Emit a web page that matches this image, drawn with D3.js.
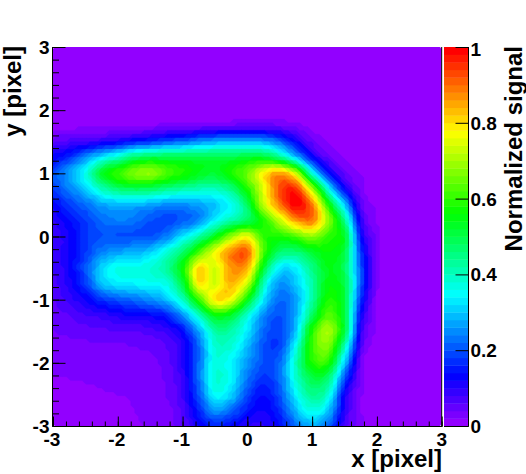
<!DOCTYPE html>
<html><head><meta charset="utf-8">
<script src="https://cdn.jsdelivr.net/npm/d3@7"></script>
<style>
html,body{margin:0;padding:0;background:#fff}
svg{display:block}
text{font-family:"Liberation Sans",Arial,sans-serif;font-weight:700;fill:#000}
</style></head><body><svg id="c" width="526" height="474"></svg>
<script>
const xGrid=[-3,-2.75,-2.5,-2.25,-2,-1.75,-1.5,-1.25,-1,-.75,-.5,-.25,0,.25,.5,.75,1,1.25,1.5,1.75,2,2.25,2.5,2.75,3];
const yGrid=[3,2.75,2.5,2.25,2,1.75,1.5,1.25,1,.75,.5,.25,0,-.25,-.5,-.75,-1,-1.25,-1.5,-1.75,-2,-2.25,-2.5,-2.75,-3];
const signal=[
[.003,.003,.003,.003,.003,.003,.003,.003,.003,.003,.003,.003,.003,.003,.003,.003,.003,.003,.003,.003,.003,.003,.003,.003,.003],
[.003,.003,.003,.003,.003,.003,.003,.003,.003,.003,.003,.003,.003,.003,.003,.003,.003,.003,.003,.003,.003,.003,.003,.003,.003],
[.003,.003,.003,.003,.003,.003,.003,.003,.003,.003,.003,.003,.003,.003,.003,.003,.003,.003,.003,.003,.003,.003,.003,.003,.003],
[.003,.003,.003,.003,.003,.003,.003,.003,.003,.003,.003,.003,.003,.003,.003,.003,.003,.003,.003,.003,.003,.003,.003,.003,.003],
[.005,.005,.005,.005,.005,.005,.005,.005,.006,.007,.008,.009,.01,.01,.009,.006,.004,.003,.003,.003,.003,.003,.003,.003,.003],
[.012,.013,.015,.017,.02,.022,.025,.028,.03,.036,.042,.048,.052,.052,.046,.03,.012,.006,.003,.003,.003,.003,.003,.003,.003],
[.06,.07,.08,.1,.12,.15,.17,.2,.22,.25,.27,.28,.28,.27,.22,.13,.05,.02,.01,.004,.003,.003,.003,.003,.003],
[.13,.17,.25,.33,.4,.47,.5,.5,.5,.5,.5,.5,.52,.52,.45,.3,.14,.05,.02,.005,.003,.003,.003,.003,.003],
[.2,.27,.36,.52,.6,.66,.68,.62,.58,.54,.52,.58,.65,.78,.85,.72,.37,.15,.05,.02,.005,.003,.003,.003,.003],
[.18,.24,.3,.4,.46,.48,.47,.44,.42,.4,.4,.45,.58,.75,.92,.95,.7,.36,.13,.03,.01,.003,.003,.003,.003],
[.13,.18,.22,.27,.28,.28,.27,.25,.25,.27,.3,.36,.48,.72,.88,.99,.88,.58,.3,.06,.015,.004,.003,.003,.003],
[.1,.14,.18,.22,.24,.23,.2,.19,.21,.25,.35,.42,.48,.58,.72,.85,.88,.68,.44,.1,.02,.005,.003,.003,.003],
[.08,.12,.17,.2,.2,.2,.2,.24,.33,.42,.54,.68,.76,.6,.58,.62,.68,.6,.52,.14,.03,.01,.003,.003,.003],
[.08,.12,.18,.24,.27,.28,.31,.38,.47,.62,.76,.88,.9,.62,.47,.46,.52,.56,.5,.18,.03,.01,.003,.003,.003],
[.08,.12,.2,.31,.36,.36,.38,.43,.56,.8,.74,.86,.84,.52,.33,.34,.45,.54,.48,.2,.03,.008,.003,.003,.003],
[.07,.11,.18,.29,.33,.34,.35,.37,.5,.78,.74,.84,.72,.4,.26,.3,.42,.55,.5,.2,.025,.008,.003,.003,.003],
[.06,.09,.12,.17,.2,.22,.25,.29,.4,.6,.79,.76,.55,.33,.22,.27,.42,.58,.5,.17,.02,.006,.003,.003,.003],
[.05,.06,.08,.09,.11,.12,.13,.16,.25,.4,.55,.52,.38,.25,.2,.28,.48,.63,.5,.13,.02,.005,.003,.003,.003],
[.04,.045,.05,.055,.06,.06,.07,.09,.14,.27,.42,.42,.33,.22,.19,.3,.58,.7,.5,.1,.015,.004,.003,.003,.003],
[.03,.032,.035,.035,.035,.04,.045,.06,.1,.22,.38,.38,.29,.2,.19,.36,.6,.66,.4,.07,.012,.004,.003,.003,.003],
[.025,.026,.027,.028,.03,.03,.035,.05,.1,.22,.37,.34,.26,.2,.22,.4,.58,.58,.3,.04,.01,.004,.003,.003,.003],
[.019,.02,.021,.022,.025,.027,.03,.045,.09,.22,.38,.34,.23,.17,.22,.38,.5,.46,.2,.03,.008,.003,.003,.003,.003],
[.018,.018,.018,.019,.02,.022,.03,.04,.08,.2,.35,.31,.19,.14,.2,.34,.44,.38,.12,.025,.007,.003,.003,.003,.003],
[.015,.015,.015,.016,.017,.02,.025,.03,.07,.16,.26,.22,.15,.12,.17,.29,.37,.3,.1,.02,.006,.003,.003,.003,.003],
[.013,.013,.014,.014,.015,.018,.022,.03,.06,.12,.16,.14,.1,.1,.14,.22,.28,.22,.08,.03,.005,.003,.003,.003,.003]
];
const xTicks=[-3,-2,-1,0,1,2,3], yTicks=[-3,-2,-1,0,1,2,3], zTicks=[0,.2,.4,.6,.8,1];
const xTitle="x [pixel]", yTitle="y [pixel]", zTitle="Normalized signal";
const nColors=50, nBins=100;

const svg=d3.select("#c");
const L=53,R=441.7,T=47,B=426,BL=444,BR=468.5;
const x=d3.scaleLinear().domain([-3,3]).range([L,R]);
const y=d3.scaleLinear().domain([-3,3]).range([B,T]);
const z=d3.scaleLinear().domain([0,1]).range([B,T]);
const palette=d3.range(nColors).map(i=>d3.hsl(280-(i+1)*280/nColors,1,.5).formatHex());

svg.append("clipPath").attr("id","fr").append("rect").attr("x",L).attr("y",T).attr("width",R-L).attr("height",B-T);

// display resampling of the read grid into the histogram's bins (as the original's smoothed draw)
function cr(p0,p1,p2,p3,t){return .5*(2*p1+(p2-p0)*t+(2*p0-5*p1+4*p2-p3)*t*t+(3*p1-p0-3*p2+p3)*t*t*t);}
const nx=xGrid.length, ny=yGrid.length;
function at(j,i){return signal[Math.max(0,Math.min(ny-1,j))][Math.max(0,Math.min(nx-1,i))];}
function sample(fi,fj){
  const i=Math.floor(fi), j=Math.floor(fj), u=fi-i, v=fj-j;
  const r=[-1,0,1,2].map(dj=>cr(at(j+dj,i-1),at(j+dj,i),at(j+dj,i+1),at(j+dj,i+2),u));
  return Math.max(0,Math.min(.999,cr(r[0],r[1],r[2],r[3],v)));
}
const bins=new Array(nBins*nBins);
for(let b=0;b<nBins;b++)for(let a=0;a<nBins;a++){
  bins[b*nBins+a]=sample((a+.5)/nBins*(nx-1),(b+.5)/nBins*(ny-1));
}
const binX=d3.scaleLinear().domain([0,nBins]).range([L,R]);
const binY=d3.scaleLinear().domain([0,nBins]).range([T,B]);
const proj=d3.geoTransform({point(a,b){this.stream.point(binX(a),binY(b));}});
const path=d3.geoPath(proj);
const thresholds=d3.range(0,nColors).map(i=>i/nColors);
const contours=d3.contours().size([nBins,nBins]).smooth(false).thresholds(thresholds)(bins);
svg.append("g").attr("clip-path","url(#fr)").selectAll("path").data(contours).join("path")
  .attr("d",path).attr("fill",(d,i)=>palette[i]).attr("stroke",(d,i)=>palette[i]).attr("stroke-width",.3);

svg.append("g").selectAll("rect").data(palette).join("rect")
  .attr("x",BL).attr("width",BR-BL)
  .attr("y",(d,i)=>z((i+1)/nColors)).attr("height",(B-T)/nColors+.4).attr("fill",d=>d);

function line(x1,y1,x2,y2){svg.append("line").attr("x1",x1).attr("y1",y1).attr("x2",x2).attr("y2",y2).attr("stroke","#000").attr("stroke-width",1);}

line(L-.5,T,L-.5,B+.5); line(L-.5,B+.5,R+.5,B+.5); line(R,T,R,B+.5); line(BR,T,BR,B+.5);line(BL,B+.5,BR,B+.5);

const minor=d3.range(-3,3.001,.2).map(v=>+v.toFixed(1));
svg.append("g").attr("transform",`translate(0,${B+.5})`).call(d3.axisTop(x).tickValues(minor).tickSize(5).tickFormat("")).call(g=>g.select(".domain").remove());
svg.append("g").attr("transform",`translate(0,${B+.5})`).call(d3.axisTop(x).tickValues(xTicks).tickSize(10).tickFormat("")).call(g=>g.select(".domain").remove());
svg.append("g").attr("transform",`translate(${L-.5},0)`).call(d3.axisRight(y).tickValues(minor).tickSize(6.5).tickFormat("")).call(g=>g.select(".domain").remove());
svg.append("g").attr("transform",`translate(${L-.5},0)`).call(d3.axisRight(y).tickValues(yTicks).tickSize(13).tickFormat("")).call(g=>g.select(".domain").remove());
svg.append("g").attr("transform",`translate(${BR},0)`).call(d3.axisLeft(z).tickValues(zTicks).tickSize(13).tickFormat("")).call(g=>g.select(".domain").remove());

const fs=19, ts=24;
svg.append("g").selectAll("text").data(xTicks).join("text").attr("x",d=>x(d)-(d<0?1:0)).attr("y",446).attr("text-anchor","middle").attr("font-size",fs).text(d=>d);
svg.append("g").selectAll("text").data(yTicks).join("text").attr("x",49.5).attr("y",d=>y(d)+7).attr("text-anchor","end").attr("font-size",fs).text(d=>d);
svg.append("g").selectAll("text").data(zTicks).join("text").attr("x",470.5).attr("y",d=>z(d)+(d==1?9:7)).attr("font-size",fs).text(d=>d);
svg.append("text").attr("x",442).attr("y",467).attr("text-anchor","end").attr("font-size",ts).text(xTitle);
svg.append("text").attr("transform","translate(21,46) rotate(-90)").attr("text-anchor","end").attr("font-size",ts).text(yTitle);
svg.append("text").attr("transform","translate(522,46) rotate(-90)").attr("text-anchor","end").attr("font-size",ts).text(zTitle);
</script></body></html>
